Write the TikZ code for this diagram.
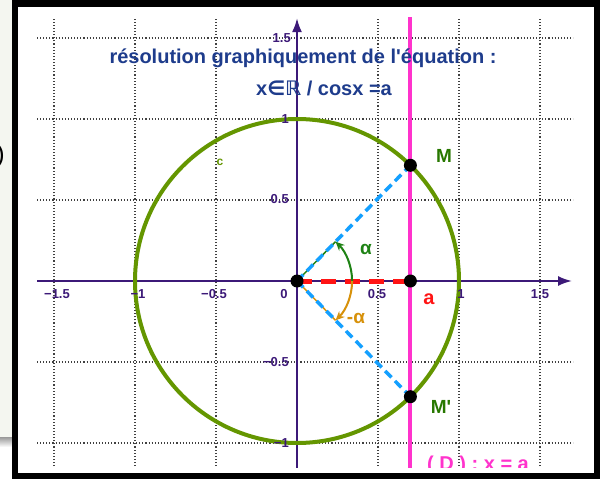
\documentclass[tikz,border=0pt]{standalone}
\usepackage{fontspec}
\setmainfont{Liberation Sans}[Ligatures=TeXOff]
\newfontfamily\dejavu{DejaVu Sans}
\usetikzlibrary{arrows.meta}
\definecolor{axiscol}{RGB}{60,25,120}
\definecolor{titlecol}{RGB}{30,60,140}
\definecolor{circcol}{RGB}{100,150,0}
\definecolor{ptlabel}{RGB}{40,120,0}
\definecolor{alphacol}{RGB}{30,130,20}
\definecolor{orangecol}{RGB}{215,145,10}
\definecolor{bluecol}{RGB}{20,160,255}
\definecolor{redcol}{RGB}{255,20,20}
\definecolor{pinkcol}{RGB}{255,51,204}
\definecolor{leftgray}{RGB}{244,246,240}
\begin{document}
\begin{tikzpicture}[x=1pt,y=-1pt,
  gridline/.style={black!75,line width=1.3pt,dash pattern=on 1.1pt off 2pt},
  axisline/.style={axiscol,line width=2.2pt,-{Latex[length=14pt,width=10pt]}},
  circline/.style={circcol,line width=4pt},
  pinkline/.style={pinkcol,line width=4pt},
  bluedash/.style={bluecol,line width=3.5pt,dash pattern=on 9pt off 5pt},
  reddash/.style={redcol,line width=5pt,dash pattern=on 15pt off 9pt},
  garrow/.style={alphacol,line width=2pt,-{Stealth[length=9pt,width=8pt]}},
  oarrow/.style={orangecol,line width=2pt,-{Stealth[length=9pt,width=8pt]}},
  tick/.style={axiscol,font=\fontsize{13}{13}\selectfont\bfseries,inner sep=0pt},
  ptlab/.style={ptlabel,font=\fontsize{19}{19}\selectfont\bfseries},
  titlestyle/.style={titlecol,font=\fontsize{20}{24}\selectfont\bfseries,inner sep=0pt},
  dot/.style={black}]
\useasboundingbox (0,0) rectangle (600,479);
% outside area
\fill[leftgray] (0,0) rectangle (12,437);
\shade[top color=black!40,bottom color=white] (0,437) rectangle (12,447);
\node[anchor=base east,inner sep=0pt,font=\fontsize{25}{25}\selectfont] (paren) at (5,162) {)};
% frame
\fill[black] (12,0) rectangle (600,479);
\fill[white] (18,7) rectangle (594,473);
\begin{scope}
\clip (37,17) rectangle (573,467);
\begin{scope}[shift={(297,281)},x=162pt,y=162pt]
  \coordinate (O) at (0,0);
  \coordinate (A) at (0.7,0);
  \coordinate (M) at (0.7,0.71414);
  \coordinate (Mp) at (0.7,-0.71414);
  \coordinate (xl) at (-1.605,0);
  \coordinate (xr) at (1.698,0);
  \coordinate (yb) at (0,-1.2);
  \coordinate (yt) at (0,1.623);
  \coordinate (Db) at (0.7,-1.2);
  \coordinate (Dt) at (0.7,1.7);
  \coordinate (a0) at (0.34,0);
  \coordinate (am) at (45.57:0.34);
  \coordinate (amp) at (-45.57:0.34);
  \foreach \u in {-1.5,-1,-0.5,0.5,1,1.5} \draw[gridline] (\u,-1.2) -- (\u,1.623);
  \foreach \v in {-1,-0.5,0.5,1,1.5} \draw[gridline] (-1.605,\v) -- (1.75,\v);
  \draw[axisline] (xl) -- (xr);
  \draw[axisline] (yb) -- (yt);
  \draw[circline] (O) circle[radius=1];
  \draw[pinkline] (Db) -- (Dt);
  \draw[alphacol,line width=1.5pt] (O) -- (am);
  \draw[orangecol,line width=1.5pt] (O) -- (amp);
  \draw[bluedash] (O) -- (M);
  \draw[bluedash] (O) -- (Mp);
  \draw[reddash] (O) -- (A);
  \draw[garrow] (a0) arc[start angle=0,end angle=45.57,radius=0.34];
  \draw[oarrow] (a0) arc[start angle=0,end angle=-45.57,radius=0.34];
  \fill[dot] (O) circle[radius=6.5pt];
  \fill[dot] (A) circle[radius=6.5pt];
  \fill[dot] (M) circle[radius=6.5pt];
  \fill[dot] (Mp) circle[radius=6.5pt];
\end{scope}
% tick labels
\node[tick] (tx1) at (57,294) {−1.5};
\node[tick] (tx2) at (138,294) {−1};
\node[tick] (tx3) at (214,294) {−0.5};
\node[tick] (tx4) at (284,294) {0};
\node[tick] (tx5) at (377,294) {0.5};
\node[tick] (tx6) at (461,294) {1};
\node[tick] (tx7) at (540,294) {1.5};
\node[tick,anchor=east] (ty1) at (291,38) {1.5};
\node[tick,anchor=east] (ty2) at (289,119) {1};
\node[tick,anchor=east] (ty3) at (289,199) {0.5};
\node[tick,anchor=east] (ty4) at (289,362) {−0.5};
\node[tick,anchor=east] (ty5) at (289,443) {−1};
% labels
\node[circcol,font=\fontsize{12}{12}\selectfont\bfseries] (clab) at (220,162) {c};
\node[ptlab] (Mlab) at (444,156) {M};
\node[ptlab] (Mplab) at (441,407) {M'};
\node[redcol,font=\fontsize{20}{20}\selectfont\bfseries] (alab) at (429,299) {a};
\node[alphacol,font=\fontsize{19}{19}\selectfont\bfseries] (alphalab) at (366,249) {α};
\node[orangecol,font=\fontsize{19}{19}\selectfont\bfseries] (malphalab) at (356,318) {-α};
\node[pinkcol,font=\fontsize{20}{20}\selectfont\bfseries,anchor=base west,inner sep=0pt] (Dlab) at (427,470) {( D ) : x = a};
\node[titlestyle] (t1) at (303,58) {résolution graphiquement de l'équation :};
\node[titlestyle] (t2) at (324,88) {x{\dejavu\bfseries ∈ℝ} / cosx =a};
\end{scope}
\end{tikzpicture}
\end{document}
